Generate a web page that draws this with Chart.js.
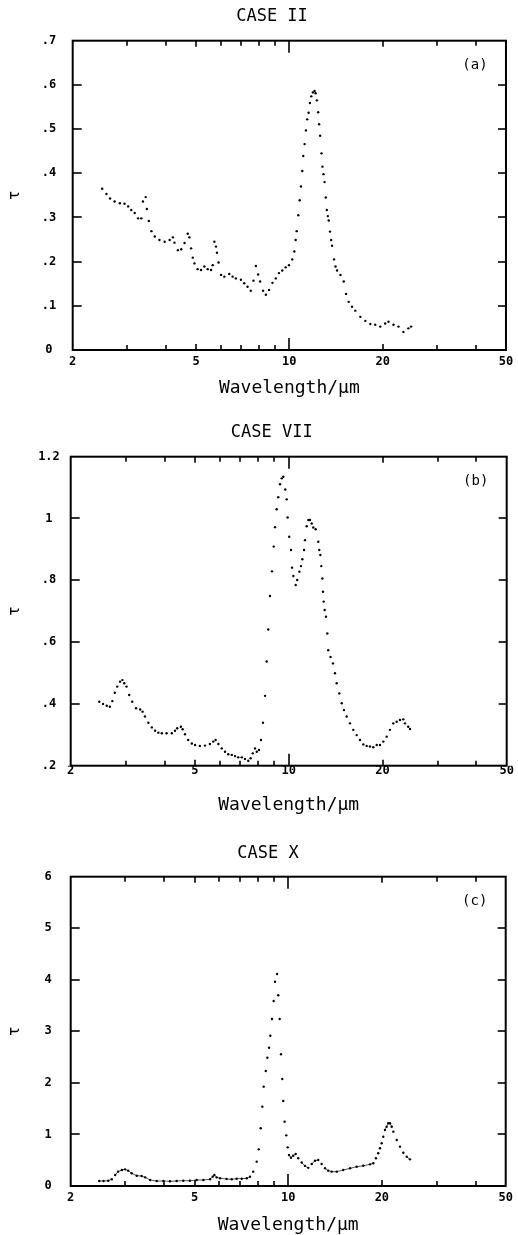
<!DOCTYPE html>
<html><head><meta charset="utf-8">
<script src="https://cdn.jsdelivr.net/npm/chart.js@4.4.1/dist/chart.umd.min.js"></script>
<style>
html,body{margin:0;padding:0;background:#fff;}
#wrap{width:518px;height:1235px;position:relative;overflow:hidden;}
.panel{position:absolute;left:0;width:518px;}
canvas{display:block;}
</style></head><body>
<div id="wrap">
<div class="panel" style="top:0;height:410px"><canvas id="ca" width="518" height="410"></canvas></div>
<div class="panel" style="top:410px;height:410px"><canvas id="cb" width="518" height="410"></canvas></div>
<div class="panel" style="top:820px;height:415px"><canvas id="cc" width="518" height="415"></canvas></div>
</div>
<script>
// ---------- data ----------
const TITLES = ['CASE II', 'CASE VII', 'CASE X'];
const PANEL_LABELS = ['(a)', '(b)', '(c)'];
const X_TITLE = 'Wavelength/µm';
const Y_TITLE = 'τ';
const X_TICKS = [2, 5, 10, 20, 50];
const X_TICK_LABELS = ['2', '5', '10', '20', '50'];
const X_MINOR = [3, 4, 5, 6, 7, 8, 9, 10, 20, 30, 40];

const Y_TICKS_A = [0, 0.1, 0.2, 0.3, 0.4, 0.5, 0.6, 0.7];
const Y_LABELS_A = ['0', '.1', '.2', '.3', '.4', '.5', '.6', '.7'];
const Y_TICKS_B = [0.2, 0.4, 0.6, 0.8, 1.0, 1.2];
const Y_LABELS_B = ['.2', '.4', '.6', '.8', '1', '1.2'];
const Y_TICKS_C = [0, 1, 2, 3, 4, 5, 6];
const Y_LABELS_C = ['0', '1', '2', '3', '4', '5', '6'];

const LAMBDA_A = [
 2.49, 2.57, 2.64, 2.73, 2.84, 2.94, 3.02, 3.09, 3.17, 3.25,
 3.33, 3.37, 3.44, 3.47, 3.52, 3.59, 3.68, 3.81, 3.96, 4.11,
 4.21, 4.26, 4.37, 4.48, 4.59, 4.70, 4.76, 4.82, 4.88, 4.94,
 5.06, 5.19, 5.32, 5.45, 5.59, 5.66, 5.73, 5.80, 5.84, 5.91,
 6.02, 6.17, 6.40, 6.56, 6.72, 6.98, 7.15, 7.33, 7.51, 7.66,
 7.80, 7.93, 8.05, 8.23, 8.40, 8.60, 8.82, 9.04, 9.26, 9.49,
 9.73, 9.97, 10.22, 10.38, 10.48, 10.56, 10.69, 10.80, 10.90, 11.01,
 11.09, 11.20, 11.31, 11.42, 11.54, 11.65, 11.77, 11.91, 12.06, 12.15,
 12.27, 12.39, 12.48, 12.57, 12.70, 12.79, 12.89, 12.99, 13.11, 13.21,
 13.31, 13.40, 13.53, 13.64, 13.74, 13.94, 14.09, 14.26, 14.62, 14.98,
 15.24, 15.54, 15.93, 16.33, 16.95, 17.59, 18.25, 18.93, 19.65, 20.38,
 20.89, 21.68, 22.50, 23.34, 24.22, 24.71
];
const TAU_A = [
 .365, .353, .343, .336, .332, .331, .325, .317, .310, .298,
 .298, .336, .346, .319, .292, .269, .257, .249, .245, .249,
 .255, .243, .226, .228, .242, .263, .255, .230, .209, .196,
 .183, .181, .189, .183, .181, .192, .245, .234, .220, .198,
 .170, .166, .172, .166, .162, .159, .151, .143, .134, .157,
 .190, .171, .155, .134, .125, .136, .152, .162, .174, .180,
 .187, .192, .205, .223, .249, .269, .305, .339, .370, .405,
 .439, .466, .497, .522, .537, .559, .574, .583, .586, .581,
 .565, .538, .511, .485, .445, .415, .398, .380, .345, .317,
 .303, .293, .268, .249, .236, .205, .189, .180, .170, .155,
 .127, .109, .098, .089, .075, .066, .059, .057, .053, .060,
 .064, .057, .053, .041, .049, .053
];

const LAMBDA_B = [
 2.47, 2.54, 2.61, 2.67, 2.72, 2.77, 2.82, 2.88, 2.93, 2.97,
 3.02, 3.08, 3.15, 3.24, 3.34, 3.40, 3.46, 3.55, 3.64, 3.73,
 3.82, 3.92, 4.06, 4.22, 4.32, 4.39, 4.51, 4.57, 4.65, 4.76,
 4.89, 5.01, 5.19, 5.39, 5.59, 5.73, 5.83, 5.95, 6.10, 6.25,
 6.40, 6.57, 6.73, 6.89, 7.07, 7.24, 7.42, 7.55, 7.67, 7.80,
 7.90, 8.03, 8.15, 8.27, 8.40, 8.50, 8.60, 8.71, 8.84, 8.95,
 9.04, 9.15, 9.26, 9.38, 9.50, 9.61, 9.75, 9.85, 9.92, 10.04,
 10.17, 10.25, 10.35, 10.53, 10.65, 10.82, 10.95, 11.06, 11.20, 11.28,
 11.42, 11.56, 11.70, 11.85, 11.99, 12.20, 12.44, 12.53, 12.63, 12.72,
 12.82, 12.88, 12.95, 13.04, 13.17, 13.30, 13.39, 13.62, 13.87, 14.07,
 14.25, 14.53, 14.79, 15.04, 15.34, 15.72, 16.11, 16.52, 16.93, 17.35,
 17.78, 18.22, 18.67, 19.15, 19.62, 20.11, 20.61, 21.12, 21.64, 22.19,
 22.74, 23.30, 23.59, 24.17, 24.49
];
const TAU_B = [
 .407, .400, .394, .391, .409, .436, .456, .472, .477, .467,
 .456, .429, .407, .386, .382, .375, .359, .339, .324, .313,
 .307, .305, .305, .305, .313, .321, .326, .318, .302, .283,
 .272, .267, .264, .265, .270, .278, .283, .270, .256, .245,
 .237, .235, .231, .227, .227, .222, .216, .224, .240, .256,
 .245, .251, .283, .339, .426, .537, .641, .749, .829, .909,
 .972, 1.030, 1.069, 1.111, 1.130, 1.135, 1.094, 1.062, 1.003, .941,
 .898, .841, .814, .785, .801, .828, .846, .868, .898, .930,
 .975, .995, .995, .984, .971, .965, .925, .898, .882, .846,
 .806, .763, .731, .704, .682, .628, .574, .552, .531, .499,
 .467, .434, .402, .380, .359, .337, .316, .299, .283, .269,
 .264, .262, .260, .267, .267, .278, .294, .316, .337, .342,
 .348, .350, .337, .326, .319
];

const LAMBDA_C = [
 2.47, 2.55, 2.64, 2.71, 2.78, 2.84, 2.92, 2.99, 3.06, 3.14,
 3.26, 3.38, 3.47, 3.60, 3.78, 3.97, 4.17, 4.38, 4.60, 4.83,
 5.08, 5.34, 5.61, 5.72, 5.79, 5.89, 6.04, 6.34, 6.58, 6.83,
 7.09, 7.36, 7.54, 7.72, 7.92, 8.04, 8.16, 8.26, 8.34, 8.47,
 8.57, 8.68, 8.76, 8.87, 8.98, 9.07, 9.21, 9.29, 9.39, 9.48,
 9.57, 9.64, 9.74, 9.86, 9.96, 10.06, 10.21, 10.38, 10.57, 10.77,
 11.05, 11.32, 11.60, 11.90, 12.19, 12.49, 12.81, 13.13, 13.45, 13.79,
 14.32, 15.03, 15.80, 16.60, 17.43, 18.32, 18.77, 19.14, 19.47, 19.72,
 19.97, 20.21, 20.46, 20.71, 20.98, 21.24, 21.51, 21.77, 22.32, 22.87,
 23.44, 24.04, 24.62
];
const TAU_C = [
 .097, .097, .103, .130, .213, .278, .310, .323, .298, .246,
 .200, .194, .168, .116, .097, .097, .091, .097, .103, .103,
 .116, .116, .130, .181, .213, .168, .149, .136, .130, .142,
 .142, .149, .181, .278, .472, .711, 1.119, 1.539, 1.927, 2.231,
 2.489, 2.683, 2.916, 3.240, 3.589, 3.963, 4.113, 3.699, 3.240, 2.555,
 2.076, 1.649, 1.248, .983, .750, .601, .549, .588, .621, .537,
 .456, .390, .352, .427, .491, .504, .427, .343, .298, .278,
 .278, .310, .343, .374, .394, .420, .440, .537, .634, .731,
 .828, .956, 1.086, 1.150, 1.216, 1.216, 1.150, 1.054, .892, .763,
 .646, .569, .517
];

// ---------- drawing ----------
const MONO = "'DejaVu Sans Mono', 'Liberation Mono', monospace";

const framePlugin = {
  id: 'frame',
  afterDraw(chart, args, opts) {
    const {ctx, chartArea: {left, right, top, bottom}, scales: {x, y}} = chart;
    ctx.save();
    ctx.strokeStyle = '#000';
    ctx.lineCap = 'butt';
    ctx.lineWidth = 1.6;
    const seg = (x1, y1, x2, y2) => { ctx.beginPath(); ctx.moveTo(x1, y1); ctx.lineTo(x2, y2); ctx.stroke(); };
    X_MINOR.forEach(v => {
      const px = Math.round(x.getPixelForValue(v));
      const len = v === 10 ? 12 : (v === 5 || v === 20 ? 6 : 5);
      seg(px, bottom, px, bottom - len);
      seg(px, top, px, top + len);
    });
    opts.yMarks.forEach(v => {
      const py = Math.round(y.getPixelForValue(v));
      seg(left, py, left + 9, py);
      seg(right, py, right - 8, py);
    });
    ctx.lineWidth = 2;
    ctx.strokeRect(left, top, right - left, bottom - top);
    ctx.fillStyle = '#000';
    ctx.font = '14px ' + MONO;
    ctx.textAlign = 'center';
    ctx.textBaseline = 'middle';
    ctx.fillText(opts.label, right - 31, top + 25);
    ctx.restore();
  }
};

// thin connecting stroke only between neighbouring dots that lie close together
function closeSegment(maxDy, maxDx) {
  return ctx => {
    const dx = Math.abs(ctx.p1.x - ctx.p0.x), dy = Math.abs(ctx.p1.y - ctx.p0.y);
    return (dy <= maxDy && dx <= maxDx) ? 'rgba(0,0,0,0.75)' : 'rgba(0,0,0,0)';
  };
}

function makeChart(id, c) {
  const points = c.lambda.map((lx, i) => ({x: lx, y: c.tau[i]}));
  return new Chart(document.getElementById(id), {
    type: 'scatter',
    data: { datasets: [{
      data: points, showLine: !!c.link,
      borderWidth: 0.9, borderColor: 'rgba(0,0,0,0)',
      segment: c.link ? { borderColor: closeSegment(c.link[0], c.link[1]) } : undefined,
      pointRadius: 1.2, pointHoverRadius: 0, pointBorderWidth: 0,
      pointBackgroundColor: '#000', pointBorderColor: '#000'
    }]},
    options: {
      responsive: false, animation: false, events: [],
      layout: { padding: { left: c.padLeft, right: c.padRight, top: 0, bottom: 0 } },
      plugins: {
        legend: { display: false }, tooltip: { enabled: false },
        title: { display: true, text: c.title, color: '#000',
                 font: { family: MONO, size: 17, weight: 'normal', lineHeight: 1.2 },
                 padding: { top: c.titleTop, bottom: c.titleBottom } },
        frame: { yMarks: c.yMarks, label: c.label }
      },
      scales: {
        x: {
          type: 'logarithmic', position: 'bottom', min: 2, max: 50,
          grid: { display: false, drawTicks: false }, border: { display: false },
          afterBuildTicks: s => { s.ticks = X_TICKS.map(v => ({ value: v })); },
          afterFit: s => { s.height = c.xHeight; },
          ticks: { autoSkip: false, maxRotation: 0, minRotation: 0, padding: c.xTickPad, color: '#000',
                   font: { family: MONO, size: 12, weight: 'bold' },
                   callback: (v, i) => X_TICK_LABELS[i] },
          title: { display: true, text: X_TITLE, color: '#000',
                   font: { family: MONO, size: 18, weight: 'normal', lineHeight: 1.2 },
                   padding: { top: 0, bottom: c.xTitlePad } }
        },
        y: {
          type: 'linear', position: 'left', min: c.yMin, max: c.yMax,
          grid: { display: false, drawTicks: false }, border: { display: false },
          afterBuildTicks: s => { s.ticks = c.yTicks.map(v => ({ value: v })); },
          afterFit: s => { s.width = c.yWidth; },
          ticks: { padding: c.yTickPad, crossAlign: 'center', color: '#000',
                   font: { family: MONO, size: 12, weight: 'bold' },
                   callback: (v, i) => c.yLabels[i] },
          title: { display: true, text: Y_TITLE, color: '#000',
                   font: { family: MONO, size: 16, weight: 'normal', lineHeight: 1.2 },
                   padding: { top: c.yTitlePad, bottom: 0 } }
        }
      }
    },
    plugins: [framePlugin]
  });
}

makeChart('ca', {
  lambda: LAMBDA_A, tau: TAU_A, title: TITLES[0], label: PANEL_LABELS[0],
  yTicks: Y_TICKS_A, yLabels: Y_LABELS_A, yMin: 0, yMax: 0.7, yMarks: Y_TICKS_A.slice(1, -1),
  padLeft: 36, padRight: 10, yWidth: 36.7, titleTop: 6.5, titleBottom: 13.8,
  xHeight: 60, xTickPad: 4.8, xTitlePad: 10.5, yTickPad: 16.5, yTitlePad: -30.6
});
makeChart('cb', {
  lambda: LAMBDA_B, tau: TAU_B, title: TITLES[1], label: PANEL_LABELS[1],
  yTicks: Y_TICKS_B, yLabels: Y_LABELS_B, yMin: 0.2, yMax: 1.2, yMarks: Y_TICKS_B.slice(1, -1),
  padLeft: 36.7, padRight: 11.3, yWidth: 34, titleTop: 12, titleBottom: 14.3,
  xHeight: 54.3, xTickPad: -1.9, xTitlePad: 4.2, yTickPad: 10.9, yTitlePad: -31.3
});
makeChart('cc', {
  lambda: LAMBDA_C, tau: TAU_C, title: TITLES[2], label: PANEL_LABELS[2],
  yTicks: Y_TICKS_C, yLabels: Y_LABELS_C, yMin: 0, yMax: 6, yMarks: Y_TICKS_C.slice(1, -1),
  padLeft: 30.3, padRight: 12.3, yWidth: 40.4, titleTop: 23, titleBottom: 13.3,
  xHeight: 49, xTickPad: 4.8, xTitlePad: -0.8, yTickPad: 19.1, yTitlePad: -24.9,
  link: [3.5, 40]
});
</script>
</body></html>
